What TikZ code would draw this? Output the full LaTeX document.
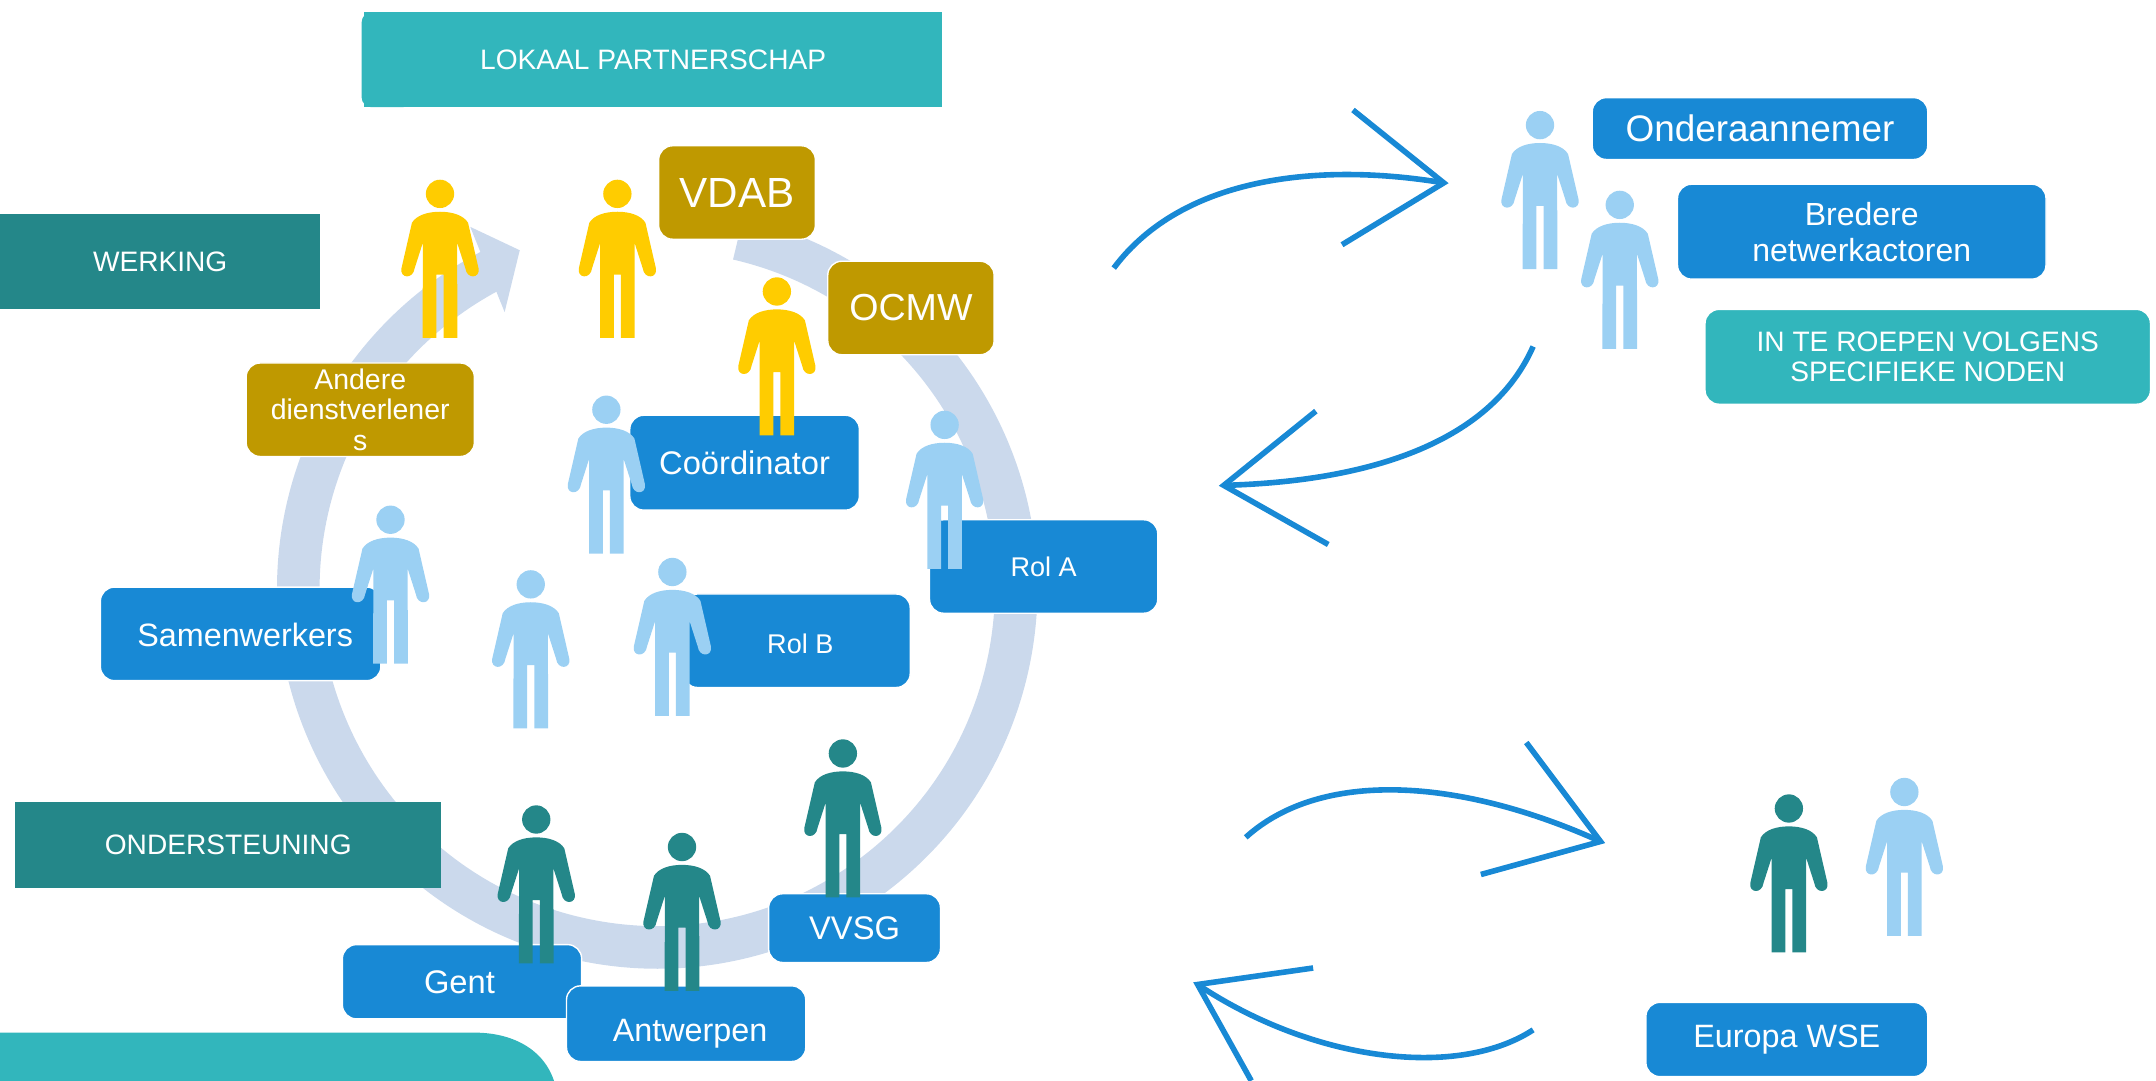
\documentclass[tikz,border=0pt]{standalone}
\usepackage{fontspec}
\setmainfont{Liberation Sans}
\definecolor{ringblue}{HTML}{CBD9EC}
\definecolor{flowblue}{HTML}{1889D5}
\definecolor{boxteal}{HTML}{32B6BC}
\definecolor{darkteal}{HTML}{248789}
\definecolor{boxgold}{HTML}{BF9900}
\definecolor{figyellow}{HTML}{FFCC00}
\definecolor{figblue}{HTML}{9BD0F3}
\tikzset{
	wh/.style 2 args={minimum width=#1*0.01375cm,minimum height=#2*0.01375cm},
	plainbox/.style={inner sep=0pt,text=white,align=center},
	roundbox/.style={plainbox,rounded corners=0.14cm,draw=white,line width=0.4pt},
	flow/.style={draw=flowblue,line width=0.056cm},
	person/.pic={
		\fill[pic actions] (0,0) circle (10.3);
		\fill[pic actions] (0,13) .. controls (9,13) and (17,15.5) .. (20.4,21) -- (28,54) .. controls (29.5,61.5) and (19.5,62.5) .. (18.4,54) -- (12.5,35.6) -- (12.6,104.7) -- (2.6,104.7) -- (2.6,58.7) -- (-2.6,58.7) -- (-2.6,104.7) -- (-12.6,104.7) -- (-12.5,35.6) -- (-18.4,54) .. controls (-19.5,62.5) and (-29.5,61.5) .. (-28,54) -- (-20.4,21) .. controls (-17,15.5) and (-9,13) .. (0,13) -- cycle;
	}
}
\begin{document}
\begin{tikzpicture}[x=0.01375cm,y=-0.01375cm]
	\useasboundingbox (0,0) rectangle (1568,786);
	% ring with its arrow head
	\coordinate (ringc) at (478,428);
	\draw[ringblue,line width=0.426cm] (ringc) ++(-77:261) arc[start angle=-77,end angle=242.5,radius=261];
	\fill[ringblue] (342,165) -- (378,182) -- (367,227) -- cycle;
	% headers
	\fill[boxteal,rounded corners=0.1cm] (263,9) rectangle (300,78);
	\node[plainbox,fill=boxteal,wh={420}{69},font=\fontsize{8}{8.6}\selectfont] (lokaal) at (475,43.5) {LOKAAL PARTNERSCHAP};
	\node[plainbox,fill=darkteal,wh={233}{69},font=\fontsize{8}{8.6}\selectfont] (werking) at (116.5,190.5) {WERKING};
	\node[plainbox,fill=darkteal,wh={310}{63},font=\fontsize{8}{8.6}\selectfont] (ondersteuning) at (166,614.5) {ONDERSTEUNING};
	\fill[boxteal] (0,790) -- (0,751) -- (345,751) .. controls (375,751) and (398,765) .. (404,790) -- cycle;
	% gold boxes
	\node[roundbox,fill=boxgold,wh={114}{68},font=\fontsize{12}{13}\selectfont] (vdab) at (536,140) {VDAB};
	\node[roundbox,fill=boxgold,wh={121}{68},font=\fontsize{10.7}{12}\selectfont] (ocmw) at (662.5,224) {OCMW};
	\node[roundbox,fill=boxgold,wh={166}{68},font=\fontsize{8.1}{8.6}\selectfont] (andere) at (262,298) {Andere\\dienstverlener\\s};
	% blue boxes
	\node[roundbox,fill=flowblue,wh={167}{69},font=\fontsize{9.3}{10}\selectfont] (coordinator) at (541.5,336.5) {Coördinator};
	\node[roundbox,fill=flowblue,wh={166}{68},font=\fontsize{7.7}{9}\selectfont] (rola) at (759,412) {Rol A};
	\node[roundbox,fill=flowblue,wh={165}{68},font=\fontsize{7.7}{9}\selectfont] (rolb) at (579.5,466) {\hspace{0.07cm}\raisebox{-0.124cm}[0pt][0pt]{Rol B}};
	\node[roundbox,fill=flowblue,wh={204}{68},font=\fontsize{9.2}{10}\selectfont] (samenwerkers) at (175,461) {\hspace{0.09cm}\raisebox{-0.13cm}[0pt][0pt]{Samenwerkers}};
	\node[roundbox,fill=flowblue,wh={174}{54},font=\fontsize{9.3}{10}\selectfont] (gent) at (336,714) {Gent\hspace{0.05cm}};
	\node[roundbox,fill=flowblue,wh={174}{55},font=\fontsize{9.2}{10}\selectfont] (antwerpen) at (499,744.5) {\hspace{0.08cm}\raisebox{-0.18cm}[0pt][0pt]{Antwerpen}};
	\node[roundbox,fill=flowblue,wh={125}{50},font=\fontsize{9.3}{10}\selectfont] (vvsg) at (621.5,675) {VVSG};
	\node[roundbox,fill=flowblue,wh={244}{45},font=\fontsize{10.5}{12}\selectfont] (onder) at (1280,93.5) {Onderaannemer};
	\node[roundbox,fill=flowblue,wh={268}{69},font=\fontsize{9.1}{10.2}\selectfont] (bredere) at (1354,168.5) {Bredere\\netwerkactoren};
	\node[roundbox,fill=boxteal,wh={324}{69},font=\fontsize{8}{8.6}\selectfont] (roepen) at (1402,259.5) {IN TE ROEPEN VOLGENS\\SPECIFIEKE NODEN};
	\node[roundbox,fill=flowblue,wh={205}{54},font=\fontsize{9.2}{10}\selectfont] (europa) at (1299.5,756) {Europa WSE};
	% people
	\pic[fill=figyellow] at (320,141) {person};
	\pic[fill=figyellow] at (449,141) {person};
	\pic[fill=figyellow] at (565,212) {person};
	\pic[fill=figblue] at (441,298) {person};
	\pic[fill=figblue] at (687,309) {person};
	\pic[fill=figblue] at (284,378) {person};
	\pic[fill=figblue] at (386,425) {person};
	\pic[fill=figblue] at (489,416) {person};
	\pic[fill=figblue] at (1120,91) {person};
	\pic[fill=figblue] at (1178,149) {person};
	\pic[fill=figblue] at (1385,576) {person};
	\pic[fill=darkteal] at (390,596) {person};
	\pic[fill=darkteal] at (496,616) {person};
	\pic[fill=darkteal] at (613,548) {person};
	\pic[fill=darkteal] at (1301,588) {person};
	% curved arrows
	\coordinate (outa) at (810,195);
	\coordinate (tipa) at (1050,133);
	\coordinate (outb) at (1115,252);
	\coordinate (tipb) at (890,353);
	\coordinate (outc) at (906,609);
	\coordinate (tipc) at (1164,612);
	\coordinate (outd) at (1115,749);
	\coordinate (tipd) at (871,716);
	\draw[flow] (outa) .. controls (860,128) and (960,118) .. (tipa);
	\draw[flow] (984,80) -- (tipa) -- (976,178);
	\draw[flow] (outb) .. controls (1085,320) and (1000,350) .. (tipb);
	\draw[flow] (957,299) -- (tipb) -- (966,396);
	\draw[flow] (outc) .. controls (960,560) and (1060,565) .. (tipc);
	\draw[flow] (1110,540) -- (tipc) -- (1077,636);
	\draw[flow] (outd) .. controls (1060,785) and (955,772) .. (tipd);
	\draw[flow] (955,704) -- (tipd) -- (910,786);
\end{tikzpicture}
\end{document}
